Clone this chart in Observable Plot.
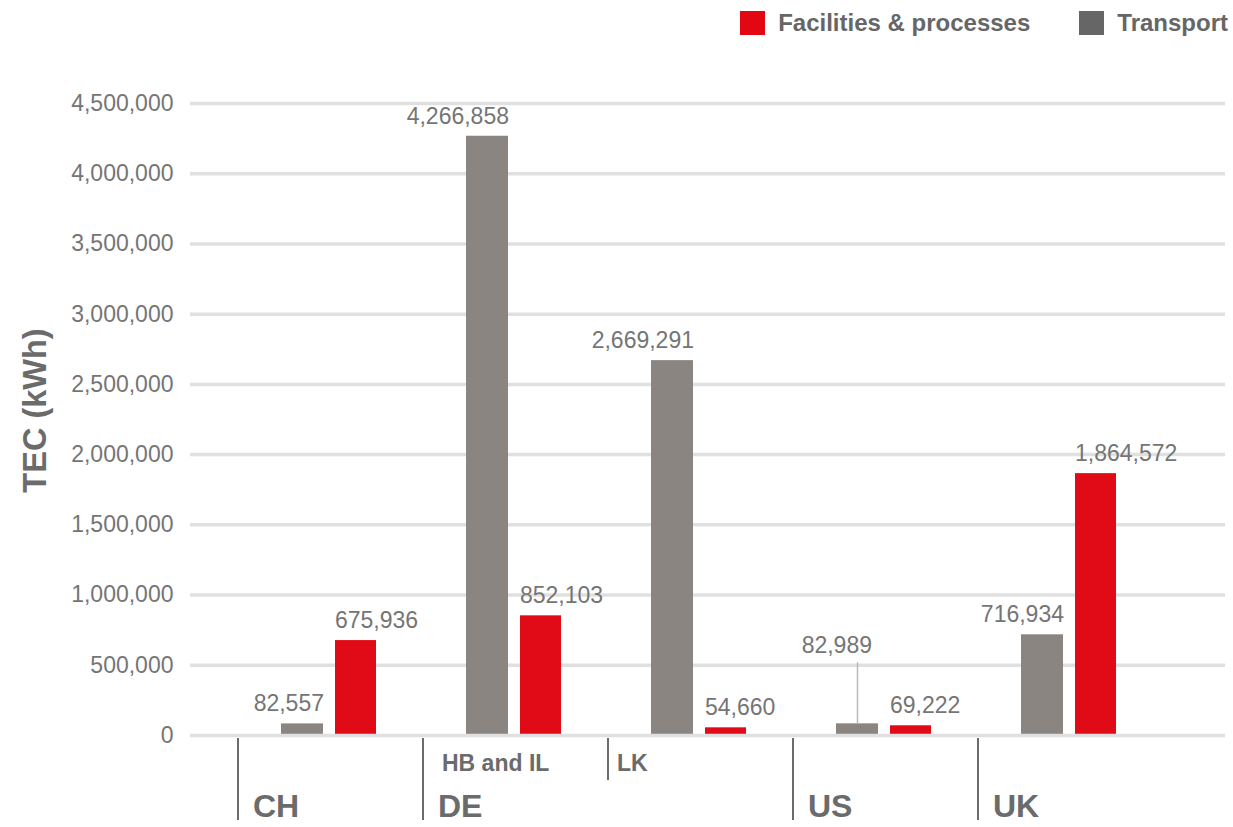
<!DOCTYPE html>
<html><head><meta charset="utf-8">
<script src="https://cdn.jsdelivr.net/npm/d3@7"></script>
<script src="https://cdn.jsdelivr.net/npm/@observablehq/plot@0.6"></script>
<style>
body{margin:0;background:#fff;font-family:"Liberation Sans",Arial,sans-serif;}
#legend{height:45px;display:flex;justify-content:flex-end;align-items:center;padding-right:5px;box-sizing:border-box;}
.item{display:flex;align-items:center;margin-left:49px;font-weight:bold;font-size:24px;color:#666;}
.sw{width:25px;height:24px;margin-right:13px;}
</style></head><body>
<div id="legend"></div>
<div id="chart"></div>
<script>
// ---- data ----
const keys = ["CH", "DE-HB", "DE-LK", "US", "UK"];
const countries = ["CH", "DE", "DE", "US", "UK"];
const subLabels = ["", "HB and IL", "LK", "", ""];
const transport = [82557, 4266858, 2669291, 82989, 716934];
const facilities = [675936, 852103, 54660, 69222, 1864572];
const seriesNames = ["Facilities & processes", "Transport"];
const seriesColors = ["#e00b17", "#8a8581"];
const legendColors = ["#e30613", "#666666"];
const yTicks = [0, 500000, 1000000, 1500000, 2000000, 2500000, 3000000, 3500000, 4000000, 4500000];
const leaderKeys = ["US"];
const yTitle = "TEC (kWh)";

// legend
const leg = document.getElementById("legend");
seriesNames.forEach((n, i) => {
  const it = document.createElement("div"); it.className = "item";
  const sw = document.createElement("div"); sw.className = "sw"; sw.style.background = legendColors[i];
  const tx = document.createElement("span"); tx.textContent = n;
  it.appendChild(sw); it.appendChild(tx); leg.appendChild(it);
});

const rows = keys.map((k, i) => ({
  key: k, country: countries[i], sub: subLabels[i],
  transport: transport[i], facilities: facilities[i],
  first: i === 0 || countries[i] !== countries[i - 1],
  leader: leaderKeys.includes(k)
}));
const fmt = d3.format(",");
const labelFill = "#757575";
const darkFill = "#6b6b6b";

const chart = Plot.plot({
  width: 1233,
  height: 782,
  marginLeft: 190,
  marginRight: 8,
  marginTop: 58,
  marginBottom: 92,
  style: {fontFamily: "'Liberation Sans', Arial, sans-serif", fontSize: "23px", color: labelFill, background: "#fff"},
  x: {domain: keys, paddingInner: 0, paddingOuter: 0.2823, align: 0.44, axis: null},
  y: {domain: [0, 4500000], ticks: yTicks, tickFormat: fmt, tickSize: 0, tickPadding: 17, label: null},
  marks: [
    Plot.ruleY(yTicks.filter(t => t > 0), {stroke: "#e0e0e0", strokeWidth: 3.5}),
    Plot.barY(rows, {x: "key", y: "transport", fill: seriesColors[1], insetLeft: 43, insetRight: 100}),
    Plot.barY(rows, {x: "key", y: "facilities", fill: seriesColors[0], insetLeft: 97, insetRight: 47}),
    Plot.ruleY([0], {stroke: "#e0e0e0", strokeWidth: 3.5}),
    // value labels
    Plot.text(rows.filter(d => !d.leader), {x: "key", y: "transport", text: d => fmt(d.transport), textAnchor: "end", dx: -7, dy: -20, fill: labelFill, fontSize: 23}),
    Plot.text(rows.filter(d => d.leader), {x: "key", y: "transport", text: d => fmt(d.transport), textAnchor: "end", dx: -14, dy: -78, fill: labelFill, fontSize: 23}),
    Plot.ruleX(rows.filter(d => d.leader), {x: "key", y1: "transport", y2: "transport", dx: -28.5, insetTop: -61, stroke: "#b8b8b8", strokeWidth: 1.5}),
    Plot.text(rows, {x: "key", y: "facilities", text: d => fmt(d.facilities), textAnchor: "start", dx: 4, dy: -20, fill: labelFill, fontSize: 23}),
    // group separators
    Plot.ruleX(rows.filter(d => d.first), {x: "key", y1: 0, y2: 0, dx: -93, insetTop: 3, insetBottom: -85, stroke: darkFill, strokeWidth: 2}),
    Plot.ruleX(rows.filter(d => !d.first), {x: "key", y1: 0, y2: 0, dx: -93, insetTop: 3, insetBottom: -45, stroke: darkFill, strokeWidth: 2}),
    // category labels
    Plot.text(rows.filter(d => d.first), {x: "key", y: 0, text: "country", textAnchor: "start", dx: -93 + 15, dy: 71.5, fontSize: 32, fontWeight: "bold", fill: darkFill}),
    Plot.text(rows.filter(d => d.sub && d.first), {x: "key", y: 0, text: "sub", textAnchor: "start", dx: -93 + 19, dy: 28.5, fontSize: 23, fontWeight: "bold", fill: darkFill}),
    Plot.text(rows.filter(d => d.sub && !d.first), {x: "key", y: 0, text: "sub", textAnchor: "start", dx: -93 + 9, dy: 28.5, fontSize: 23, fontWeight: "bold", fill: darkFill}),
    // y title
    Plot.text([yTitle], {frameAnchor: "left", text: d => d, rotate: -90, dx: -155, dy: -9, fontSize: 32.5, fontWeight: "bold", fill: darkFill, textAnchor: "middle"})
  ]
});
document.getElementById("chart").appendChild(chart);
</script>
</body></html>
